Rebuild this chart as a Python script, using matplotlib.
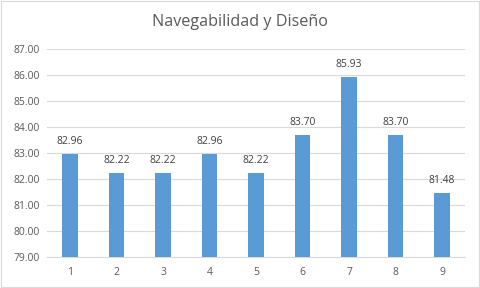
import matplotlib.pyplot as plt
from matplotlib.patches import Rectangle

categories = ["1", "2", "3", "4", "5", "6", "7", "8", "9"]
values = [82.96, 82.22, 82.22, 82.96, 82.22, 83.70, 85.93, 83.70, 81.48]
y_ticks = [79, 80, 81, 82, 83, 84, 85, 86, 87]

plt.rcParams['font.family'] = ['Open Sans', 'DejaVu Sans']

fig = plt.figure(figsize=(4.8, 2.88), dpi=100)
ax = fig.add_axes([0.0974, 0.1076, 0.872, 0.7222])

x = list(range(len(categories)))
ax.bar(x, values, width=0.33, color="#5B9BD5", zorder=3, bottom=0)

ax.set_ylim(79, 87)
ax.set_xlim(-0.5, len(categories) - 0.5)
ax.set_yticks(y_ticks)
ax.set_yticklabels([f"{t:.2f}" for t in y_ticks])
ax.set_xticks(x)
ax.set_xticklabels(categories)
ax.tick_params(axis="both", length=0, labelsize=7.5, colors="#595959")
ax.tick_params(axis="x", pad=7)
ax.tick_params(axis="y", pad=5)

ax.grid(axis="y", color="#D9D9D9", linewidth=0.8, zorder=0)
for side in ["top", "right", "left"]:
    ax.spines[side].set_visible(False)
ax.spines["bottom"].set_color("#D9D9D9")
ax.spines["bottom"].set_linewidth(0.8)

for xi, v in zip(x, values):
    ax.annotate(f"{v:.2f}", (xi, v), xytext=(0, 5), textcoords="offset points",
                ha="center", va="bottom", fontsize=7.5, color="#404040")

fig.suptitle("Navegabilidad y Diseño", x=0.5, y=0.95, fontsize=11.6, color="#595959")

fig.patches.append(Rectangle((0.002, 0.003), 0.995, 0.994, transform=fig.transFigure,
                             fill=False, edgecolor="#D9D9D9", linewidth=0.8))

fig.savefig("out.png", dpi=100)
